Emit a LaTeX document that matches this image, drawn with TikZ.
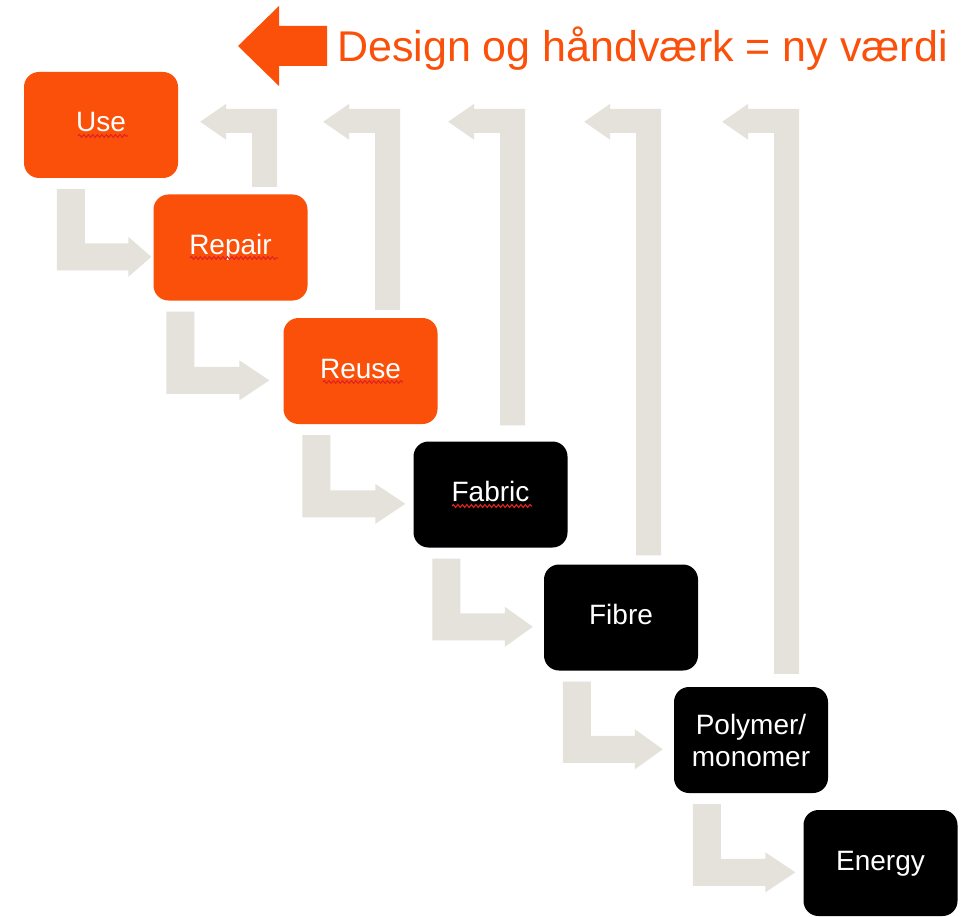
\documentclass[tikz,border=0pt]{standalone}
\usepackage{fontspec}
\setmainfont{Liberation Sans}
\usetikzlibrary{calc,decorations.pathmorphing}
\pgfdeclarelayer{background}
\pgfsetlayers{background,main}
\definecolor{brandorange}{RGB}{250,80,10}
\definecolor{flowgray}{RGB}{228,226,219}
\definecolor{spellred}{RGB}{225,35,35}

% down-right bent flow arrow: #1 from, #2 to, #3 stem dx, #4 head base dx, #5 tip dx
\newcommand\flowdown[5]{%
  \path ($(#1.south west)+(#3,11)$) coordinate (st)
        ($(#2.north west)+(#4,49)$) coordinate (hb)
        ($(#2.north west)+(#5,62.5)$) coordinate (tp);
  \fill[flow] (st) -- ++(28,0) |- (hb) -- ++(0,-6.5) -- (tp)
     -- ($(hb)+(0,33.5)$) -- ++(0,-6.5) -| (st) -- cycle;}

% up-left bent feedback arrow: #1 box below, #2 stem right dx from NE, #3 gap
\newcommand\flowup[3]{%
  \path ($(#1.north east)+(#2,-#3)$) coordinate (sr);
  \path (sr |- use.north) coordinate (bt);
  \fill[flow] (sr) -- ($(bt)+(0,37)$) -- ++(-51,0) -- ++(0,-5) -- ++(-26,18)
     -- ++(26,18) -- ++(0,-7) -- ++(26,0) -- ($(sr)+(-25,0)$) -- cycle;}

\begin{document}
\begin{tikzpicture}[x=1pt,y=-1pt,
  box/.style={rounded corners=15pt, minimum width=154pt, minimum height=106pt,
    inner sep=0pt, text=white, font=\fontsize{28}{32}\selectfont},
  onebox/.style={box, text height=20pt, text depth=6pt},
  hot/.style={fill=brandorange},
  cold/.style={fill=black},
  flow/.style={fill=flowgray},
  squig/.style={draw=spellred, line width=1.1pt, decorate,
    decoration={snake, segment length=4.5pt, amplitude=1.4pt}},
]
\useasboundingbox (0,0) rectangle (974,917);

% title
\fill[brandorange] (238,46) -- (279,6) -- (279,26) -- (327,26) -- (327,66)
   -- (279,66) -- (279,86) -- cycle;
\node[anchor=base west, text=brandorange, inner sep=0pt,
  font=\fontsize{43}{50}\selectfont] (title) at (337,62) {Design og håndværk = ny værdi};

% boxes
\node[onebox,hot]  (use)    at (101,125)   {Use};
\node[onebox,hot]  (repair) at (230.5,247.5) {Repair};
\node[onebox,hot]  (reuse)  at (360.5,371) {Reuse};
\node[onebox,cold] (fabric) at (490.5,494.5) {Fabric};
\node[onebox,cold] (fibre)  at (621,617.5) {Fibre};
\node[box,cold,align=center] (polymer) at (751,740) {Polymer/\\monomer};
\node[onebox,cold] (energy) at (880.5,863) {Energy};

% spell-check squiggles
\draw[squig] ($(use.center)+(-23,11)$) -- ++(50,0);
\draw[squig] ($(repair.center)+(-40.5,10.5)$) -- ++(88,0);
\draw[squig] ($(reuse.center)+(-37.5,11)$) -- ++(80,0);
\draw[squig] ($(fabric.center)+(-38.5,11.5)$) -- ++(80,0);

\begin{pgfonlayer}{background}
\fill[white] (0,0) rectangle (974,917);
\flowdown{use}{repair}{33}{-25}{-2}
\flowdown{repair}{reuse}{13}{-44}{-14}
\flowdown{reuse}{fabric}{19}{-38}{-8}
\flowdown{fabric}{fibre}{19}{-39}{-11}
\flowdown{fibre}{polymer}{19}{-39}{-11}
\flowdown{polymer}{energy}{19}{-38}{-8}

\flowup{repair}{-30.5}{7.5}
\flowup{reuse}{-37.5}{8}
\flowup{fabric}{-42.5}{16}
\flowup{fibre}{-37}{9}
\flowup{polymer}{-29}{13}
\end{pgfonlayer}
\end{tikzpicture}
\end{document}
